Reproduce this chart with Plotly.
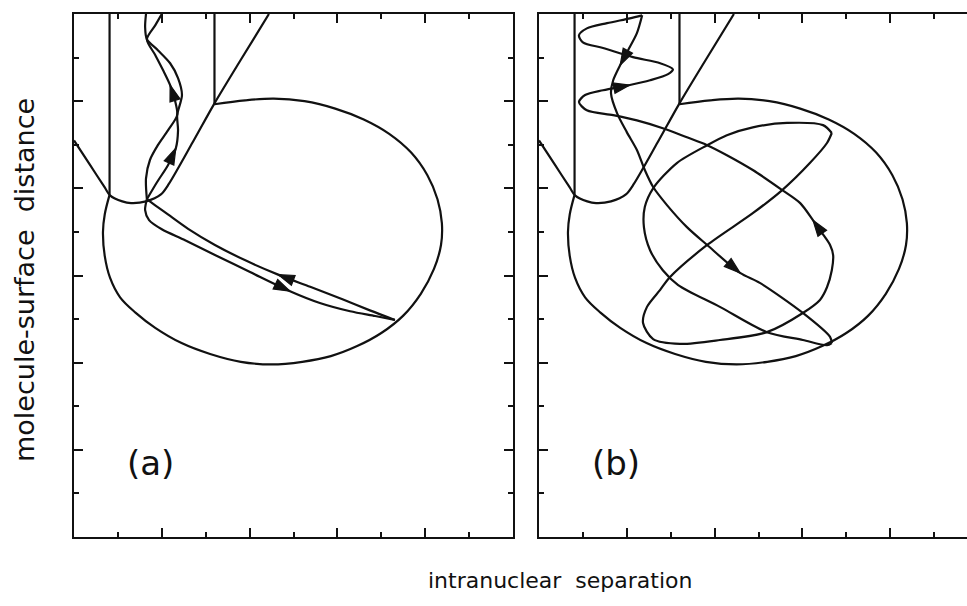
import plotly.graph_objects as go

INK = "#111111"

# ---- potential-energy contours (same surface in both panels), data units ----
WALL_LEFT_X = [0.81, 0.81]
WALL_LEFT_Y = [12.0, 7.85]
WELL_X = [0.81, 0.70, 0.66, 0.70, 0.82, 1.05, 1.40, 1.85, 2.45, 3.10, 3.80, 4.50,
          5.20, 5.85, 6.45, 7.00, 7.50, 7.90, 8.20, 8.36, 8.38, 8.28, 8.05, 7.68,
          7.18, 6.60, 5.95, 5.25, 4.55, 3.90, 3.20]
WELL_Y = [7.85, 7.40, 7.00, 6.45, 5.95, 5.50, 5.15, 4.80, 4.45, 4.20, 4.02, 3.96,
          4.02, 4.15, 4.38, 4.68, 5.08, 5.58, 6.15, 6.70, 7.20, 7.75, 8.30, 8.82,
          9.25, 9.58, 9.83, 10.00, 10.06, 10.02, 9.93]
WALL_RIGHT_X = [3.20, 3.20]
WALL_RIGHT_Y = [9.93, 12.0]
REPULSIVE_X = [0.0, 0.35, 0.70, 0.82, 1.10, 1.30, 1.64, 1.98, 2.16, 2.70, 3.20, 3.80, 4.44]
REPULSIVE_Y = [9.10, 8.56, 8.02, 7.84, 7.70, 7.66, 7.70, 7.86, 8.10, 9.05, 9.95, 10.95, 12.0]

# ---- trajectory (a) ----
A_UP1_X = [1.66, 1.64, 1.73, 1.91, 2.14, 2.35, 2.30, 2.19, 2.03, 1.85, 1.66, 1.85, 2.00]
A_UP1_Y = [7.75, 8.23, 8.65, 8.99, 9.33, 9.68, 10.02, 10.37, 10.71, 11.06, 11.42, 11.74, 12.0]
A_UP2_X = [1.66, 1.89, 2.14, 2.32, 2.37, 2.35, 2.46, 2.37, 2.19, 1.91, 1.66, 1.62, 1.64]
A_UP2_Y = [7.75, 8.14, 8.53, 8.92, 9.33, 9.68, 10.14, 10.53, 10.87, 11.17, 11.42, 11.70, 12.0]
A_IN_X = [1.66, 1.62, 1.71, 2.00, 2.53, 3.21, 4.01, 4.92, 5.60, 6.29, 6.86, 7.31]
A_IN_Y = [7.75, 7.50, 7.27, 7.06, 6.81, 6.47, 6.08, 5.64, 5.37, 5.18, 5.07, 4.98]
A_OUT_X = [7.31, 6.74, 6.13, 5.38, 4.65, 3.94, 3.21, 2.60, 2.14, 1.85, 1.66]
A_OUT_Y = [4.98, 5.20, 5.45, 5.74, 6.02, 6.33, 6.70, 7.07, 7.40, 7.61, 7.75]

# ---- trajectory (b), in order of travel ----
B1_X = [2.35, 2.23, 2.03, 1.85, 1.69, 1.64, 1.78, 2.00, 2.23, 2.41, 2.60, 2.92, 3.37,
        3.83, 4.58, 5.03, 6.01, 6.63, 6.67]
B1_Y = [11.97, 11.56, 11.17, 10.83, 10.48, 10.18, 9.72, 9.29, 8.88, 8.42, 8.03, 7.61,
        7.11, 6.70, 6.06, 5.83, 5.14, 4.59, 4.45]
B2_X = [6.67, 6.56, 6.01, 5.19, 4.12, 3.17, 2.82, 2.53, 2.39, 2.41, 2.60, 3.14, 3.83,
        4.28, 4.87, 5.65, 6.47, 6.67]
B2_Y = [4.45, 4.40, 4.52, 4.70, 5.28, 5.78, 6.12, 6.58, 7.11, 7.57, 8.00, 8.58, 8.99,
        9.22, 9.40, 9.50, 9.45, 9.27]
B3_X = [6.67, 6.56, 6.17, 5.54, 4.87, 3.83, 2.98, 2.76, 2.46, 2.37, 2.60, 3.21, 4.12,
        5.19, 6.01, 6.40, 6.56, 6.67, 6.70, 6.63, 6.45, 6.24, 5.95, 5.54, 4.87, 4.28,
        3.83, 3.37, 2.82, 2.23, 1.69, 1.09, 0.91, 1.05, 1.46, 2.07, 2.53, 2.94, 3.05,
        2.76, 2.14, 1.46, 1.00, 0.91, 1.09, 1.55, 2.07, 2.35]
B3_Y = [9.27, 9.04, 8.58, 7.96, 7.43, 6.70, 5.96, 5.67, 5.28, 4.91, 4.54, 4.43, 4.52,
        4.70, 5.14, 5.44, 5.73, 6.12, 6.47, 6.70, 6.97, 7.27, 7.66, 7.96, 8.42, 8.76,
        8.99, 9.17, 9.38, 9.56, 9.68, 9.79, 9.98, 10.14, 10.25, 10.37, 10.48, 10.62,
        10.73, 10.87, 11.01, 11.22, 11.35, 11.51, 11.67, 11.79, 11.90, 11.97]

# arrow heads: (path, index of the point the head sits on)
ARROWS_A = [("up1", 7), ("up2", 3), ("in", 7), ("out", 4)]
ARROWS_B = [("b1", 3), ("b1", 14), ("b3", 21), ("b3", 35)]

PATHS = {
    "up1": (A_UP1_X, A_UP1_Y), "up2": (A_UP2_X, A_UP2_Y),
    "in": (A_IN_X, A_IN_Y), "out": (A_OUT_X, A_OUT_Y),
    "b1": (B1_X, B1_Y), "b2": (B2_X, B2_Y), "b3": (B3_X, B3_Y),
}

fig = go.Figure()


def add_line(x, y, xa, ya, shape="spline", smoothing=0.8):
    fig.add_trace(go.Scatter(
        x=x, y=y, xaxis=xa, yaxis=ya, mode="lines",
        line=dict(color=INK, width=2.2, shape=shape, smoothing=smoothing),
        hoverinfo="skip", showlegend=False))


def add_arrow(name, i, xa, ya):
    x, y = PATHS[name]
    fig.add_trace(go.Scatter(
        x=[x[i - 1], x[i]], y=[y[i - 1], y[i]], xaxis=xa, yaxis=ya, mode="markers",
        marker=dict(symbol="arrow", size=[0, 17], angleref="previous", color=INK,
                    opacity=1, line=dict(width=1.2, color=INK)),
        hoverinfo="skip", showlegend=False))


for xa, ya in (("x", "y"), ("x2", "y2")):
    add_line(WALL_LEFT_X, WALL_LEFT_Y, xa, ya, "linear")
    add_line(WELL_X, WELL_Y, xa, ya, smoothing=1.0)
    add_line(WALL_RIGHT_X, WALL_RIGHT_Y, xa, ya, "linear")
    add_line(REPULSIVE_X, REPULSIVE_Y, xa, ya)

for name in ("up1", "up2", "in", "out"):
    add_line(*PATHS[name], "x", "y")
for name, i in ARROWS_A:
    add_arrow(name, i, "x", "y")

for name in ("b1", "b2", "b3"):
    add_line(*PATHS[name], "x2", "y2")
for name, i in ARROWS_B:
    add_arrow(name, i, "x2", "y2")

W, H = 967, 606


def frame(domain, rng, mirror):
    return dict(
        domain=domain, range=rng, showline=True, linecolor=INK, linewidth=2,
        mirror=mirror, ticks="inside", ticklen=9, tickwidth=2, tickcolor=INK,
        tick0=0, dtick=2, showticklabels=False, showgrid=False, zeroline=False,
        fixedrange=True,
        minor=dict(ticks="inside", ticklen=5, tickwidth=2, tickcolor=INK,
                   tick0=0, dtick=1, showgrid=False))


ydom = [1 - 537 / H, 1 - 14 / H]
fig.update_layout(
    width=W, height=H, margin=dict(l=0, r=0, t=0, b=0),
    paper_bgcolor="white", plot_bgcolor="white",
    xaxis=frame([74 / W, 513 / W], [0, 10], "allticks"),
    yaxis=frame(ydom, [0, 12], "allticks"),
    xaxis2=frame([539 / W, 1.0], [0, 428 / 43.9], "allticks"),
    yaxis2=frame(ydom, [0, 12], False),
)
fig.layout.xaxis.anchor = "y"
fig.layout.yaxis.anchor = "x"
fig.layout.xaxis2.anchor = "y2"
fig.layout.yaxis2.anchor = "x2"

label_font = dict(family="DejaVu Sans", size=34, color=INK)
fig.add_annotation(x=1.75, y=1.7, xref="x", yref="y", text="(a)", showarrow=False,
                   font=label_font)
fig.add_annotation(x=1.75, y=1.7, xref="x2", yref="y2", text="(b)", showarrow=False,
                   font=label_font)

fig.add_annotation(x=560 / W, y=1 - 580 / H, xref="paper", yref="paper",
                   text="intranuclear\u00a0 separation", showarrow=False,
                   xanchor="center", yanchor="middle",
                   font=dict(family="DejaVu Sans", size=22, color=INK))
fig.add_annotation(x=24 / W, y=1 - 280 / H, xref="paper", yref="paper",
                   text="molecule-surface\u00a0 distance", showarrow=False,
                   textangle=-90, xanchor="center", yanchor="middle",
                   font=dict(family="DejaVu Sans", size=27, color=INK))

fig.write_html("out.html")
